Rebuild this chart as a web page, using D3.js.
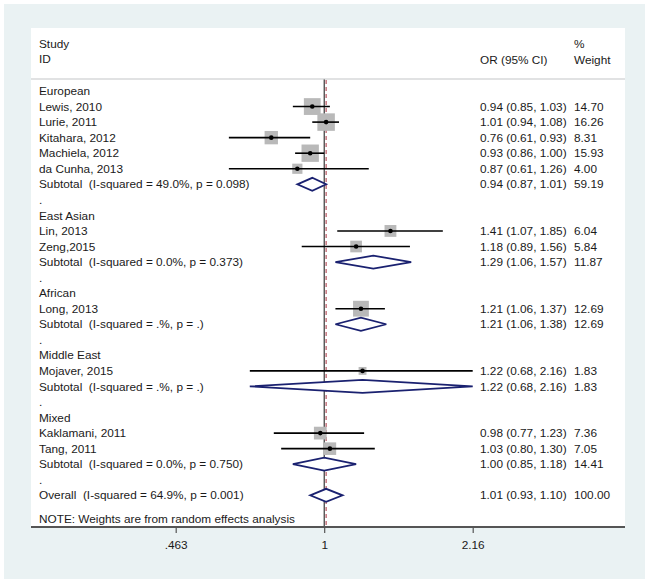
<!DOCTYPE html>
<html><head><meta charset="utf-8">
<script src="https://cdn.jsdelivr.net/npm/d3@7"></script>
<style>
html,body{margin:0;padding:0;background:#fff;}
svg{display:block;}
text{font-family:"Liberation Sans",Arial,sans-serif;fill:#1a1a1a;white-space:pre;}
</style></head>
<body>
<script>
// ---- data ----
const groups = ["European","East Asian","African","Middle East","Mixed"];
const studyNames  = ["Lewis, 2010","Lurie, 2011","Kitahara, 2012","Machiela, 2012","da Cunha, 2013",
                     "Lin, 2013","Zeng,2015","Long, 2013","Mojaver, 2015","Kaklamani, 2011","Tang, 2011"];
const studyGroup  = [0,0,0,0,0,1,1,2,3,4,4];
const studyOR     = [0.94,1.01,0.76,0.93,0.87,1.41,1.18,1.21,1.22,0.98,1.03];
const studyLo     = [0.85,0.94,0.61,0.86,0.61,1.07,0.89,1.06,0.68,0.77,0.80];
const studyHi     = [1.03,1.08,0.93,1.00,1.26,1.85,1.56,1.37,2.16,1.23,1.30];
const studyWeight = [14.70,16.26,8.31,15.93,4.00,6.04,5.84,12.69,1.83,7.36,7.05];
const subtotalLabels = ["Subtotal  (I-squared = 49.0%, p = 0.098)","Subtotal  (I-squared = 0.0%, p = 0.373)",
                        "Subtotal  (I-squared = .%, p = .)","Subtotal  (I-squared = .%, p = .)",
                        "Subtotal  (I-squared = 0.0%, p = 0.750)"];
const subtotalOR     = [0.94,1.29,1.21,1.22,1.00];
const subtotalLo     = [0.87,1.06,1.06,0.68,0.85];
const subtotalHi     = [1.01,1.57,1.38,2.16,1.18];
const subtotalWeight = [59.19,11.87,12.69,1.83,14.41];
const overallLabel = "Overall  (I-squared = 64.9%, p = 0.001)";
const overallOR = 1.01, overallLo = 0.93, overallHi = 1.10, overallWeight = 100.00;
const tickValues = [0.463, 1, 2.16];
const tickLabels = [".463", "1", "2.16"];
const noteText = "NOTE: Weights are from random effects analysis";

// ---- build rows ----
const rows = [];
groups.forEach((g, gi) => {
  rows.push({type:"group", label:g});
  studyNames.forEach((n, i) => {
    if (studyGroup[i] === gi) rows.push({type:"study", label:n, or:studyOR[i], lo:studyLo[i], hi:studyHi[i], w:studyWeight[i]});
  });
  rows.push({type:"sub", label:subtotalLabels[gi], or:subtotalOR[gi], lo:subtotalLo[gi], hi:subtotalHi[gi], w:subtotalWeight[gi]});
  rows.push({type:"dot", label:"."});
});
rows.push({type:"sub", label:overallLabel, or:overallOR, lo:overallLo, hi:overallHi, w:overallWeight});
rows.forEach((r,i)=> r.i = i);

const W = 650, H = 584;
const svg = d3.select("body").append("svg").attr("width", W).attr("height", H);

// backgrounds
svg.append("rect").attr("x",4).attr("y",4).attr("width",641).attr("height",575).attr("fill","#eaf2f3");
const panel = {x0:31, x1:625, y0:28, y1:527};
svg.append("rect").attr("x",panel.x0).attr("y",panel.y0).attr("width",panel.x1-panel.x0).attr("height",panel.y1-panel.y0).attr("fill","#fff");

const x = d3.scaleLog().domain([0.463, 2.16]).range([175.7, 472.7]);
const y = d3.scaleLinear().domain([0, rows.length-1]).range([91, 495.3]);
const size = d3.scaleSqrt().domain([0, 16.26]).range([3, 17.5]);

const fs = "11.8px";
const textX = 39, ciX = 480, wX = 574;

// header
svg.append("text").attr("x",textX).attr("y",44).attr("dy","0.35em").style("font-size",fs).text("Study");
svg.append("text").attr("x",textX).attr("y",59).attr("dy","0.35em").style("font-size",fs).text("ID");
svg.append("text").attr("x",ciX).attr("y",60).attr("dy","0.35em").style("font-size",fs).text("OR (95% CI)");
svg.append("text").attr("x",wX).attr("y",44).attr("dy","0.35em").style("font-size",fs).text("%");
svg.append("text").attr("x",wX).attr("y",60).attr("dy","0.35em").style("font-size",fs).text("Weight");
svg.append("line").attr("x1",panel.x0).attr("x2",panel.x1).attr("y1",79).attr("y2",79).attr("stroke","#c4c6c8").attr("stroke-width",1.2);

// reference lines
svg.append("line").attr("x1",x(1)).attr("x2",x(1)).attr("y1",79.5).attr("y2",panel.y1).attr("stroke","#111").attr("stroke-width",1);
svg.append("line").attr("x1",x(overallOR)).attr("x2",x(overallOR)).attr("y1",80).attr("y2",panel.y1)
  .attr("stroke","#a8323e").attr("stroke-width",1).attr("stroke-dasharray","4,3");

// row labels
const g = svg.append("g");
g.selectAll("text.lab").data(rows).join("text").attr("class","lab")
  .attr("x",textX).attr("y",d=>y(d.i)).attr("dy","0.35em").style("font-size",fs).text(d=>d.label);

const valRows = rows.filter(r=>r.type==="study"||r.type==="sub");
g.selectAll("text.ci").data(valRows).join("text").attr("class","ci")
  .attr("x",ciX).attr("y",d=>y(d.i)).attr("dy","0.35em").style("font-size",fs)
  .text(d=>`${d.or.toFixed(2)} (${d.lo.toFixed(2)}, ${d.hi.toFixed(2)})`);
g.selectAll("text.w").data(valRows).join("text").attr("class","w")
  .attr("x",wX).attr("y",d=>y(d.i)).attr("dy","0.35em").style("font-size",fs)
  .text(d=>d.w.toFixed(2));

// study marks
const st = rows.filter(r=>r.type==="study");
g.selectAll("rect.box").data(st).join("rect").attr("class","box")
  .attr("x",d=>x(d.or)-size(d.w)/2).attr("y",d=>y(d.i)-size(d.w)/2)
  .attr("width",d=>size(d.w)).attr("height",d=>size(d.w)).attr("fill","#b9b9b9");
g.selectAll("line.ci").data(st).join("line").attr("class","ci")
  .attr("x1",d=>x(d.lo)).attr("x2",d=>x(d.hi)).attr("y1",d=>y(d.i)).attr("y2",d=>y(d.i))
  .attr("stroke","#000").attr("stroke-width",1.6);
g.selectAll("circle.pt").data(st).join("circle").attr("class","pt")
  .attr("cx",d=>x(d.or)).attr("cy",d=>y(d.i)).attr("r",2.3).attr("fill","#000");

// diamonds
const sb = rows.filter(r=>r.type==="sub");
g.selectAll("polygon.dia").data(sb).join("polygon").attr("class","dia")
  .attr("points",d=>{const yy=y(d.i);return [[x(d.lo),yy],[x(d.or),yy-6.5],[x(d.hi),yy],[x(d.or),yy+6.5]].map(p=>p.join(",")).join(" ");})
  .attr("fill","#fff").attr("stroke","#1a2170").attr("stroke-width",1.8);

// note
svg.append("text").attr("x",textX).attr("y",519).attr("dy","0.35em").style("font-size",fs).text(noteText);

// axis
svg.append("line").attr("x1",panel.x0).attr("x2",panel.x1).attr("y1",panel.y1).attr("y2",panel.y1).attr("stroke","#555").attr("stroke-width",2);
const axis = d3.axisBottom(x).tickValues(tickValues).tickFormat((d,i)=>tickLabels[i]).tickSize(6).tickPadding(8);
const ag = svg.append("g").attr("transform",`translate(0,${panel.y1})`).call(axis);
ag.select(".domain").remove();
ag.selectAll(".tick line").attr("stroke","#555").attr("stroke-width",1.2);
ag.selectAll(".tick text").style("font-size",fs).attr("fill","#1a1a1a").style("font-family","'Liberation Sans',Arial,sans-serif");
</script>
</body></html>
